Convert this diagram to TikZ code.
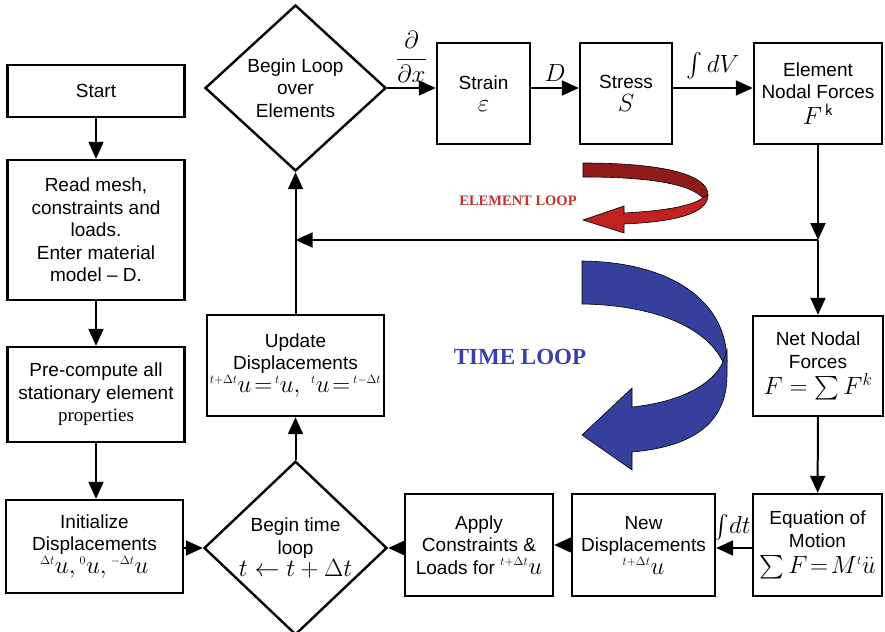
\documentclass[tikz,border=0pt]{standalone}
\usepackage{amsmath}
\usepackage{amssymb}
\usepackage{fontspec}
\setmainfont{Liberation Sans}
\newfontfamily\timesfont{Liberation Serif}
\usepackage{tikz}
\usetikzlibrary{arrows.meta, shapes.geometric}
\definecolor{elemback}{HTML}{8E1B17}
\definecolor{elemfront}{HTML}{C1221F}
\definecolor{elemtext}{HTML}{C4302B}
\definecolor{timeblue}{HTML}{34409C}
\definecolor{timetext}{HTML}{3A3FA8}
\newcommand{\bigmath}[1]{{\fontsize{23.5}{22}\selectfont$#1$}}
\newcommand{\lbl}[1]{{\fontsize{24}{24}\selectfont$#1$}}
\newcommand{\pre}[1]{{}^{\scriptscriptstyle #1}}

\begin{document}
\begin{tikzpicture}[x=1pt, y=-1pt, ->, >={Triangle[length=17pt,width=15pt]}, line width=2pt,
    every node/.style={font=\fontsize{19}{22.5}\selectfont},
    box/.style={rectangle, draw, line width=2.4pt, align=center, inner sep=1pt},
    decision/.style={diamond, draw, line width=2.4pt, align=center, inner sep=0pt}]
    \useasboundingbox (0,0) rectangle (885,631);
    % left column
    \node[box, minimum width=177, minimum height=52] (start) at (96,91) {Start};
    \node[box, minimum width=177, minimum height=140] (read) at (96,230) {Read mesh,\\constraints and\\loads.\\Enter material\\model -- D.};
    \node[box, minimum width=177, minimum height=95] (pre) at (96,394.5) {Pre-compute all\\stationary element\\{\timesfont properties}};
    \node[box, minimum width=177, minimum height=93] (init) at (94.5,546.5) {Initialize\\Displacements\\\bigmath{\pre{\Delta t}u,\pre{0}u,\pre{-\Delta t}u}};
    % time loop
    \node[decision, minimum width=183, minimum height=164] (timeloop) at (295.5,548) {Begin time\\loop\\\bigmath{t\leftarrow t+\Delta t}};
    \node[box, minimum width=177, minimum height=101] (update) at (295.5,365.5) {Update\\Displacements\\\bigmath{\pre{t+\Delta t}u\!=\!\pre{t}u,\ \pre{t}u\!=\!\pre{t-\Delta t}}};
    % element loop
    \node[decision, minimum width=181, minimum height=166] (elemloop) at (295.5,88) {Begin Loop\\over\\Elements};
    \node[box, minimum width=93, minimum height=101] (strain) at (483.5,93.5) {Strain\\\bigmath{\varepsilon}};
    \node[box, minimum width=92, minimum height=101] (stress) at (626,93.5) {Stress\\\bigmath{S}};
    \node[box, minimum width=128, minimum height=101] (elemf) at (818,93.5) {Element\\Nodal Forces\\[3pt]\bigmath{F^{\,\mathsf{k}}}};
    % right column and bottom row
    \node[box, minimum width=130, minimum height=100] (net) at (818,366) {Net Nodal\\Forces\\[4pt]\bigmath{F=\sum F^{k}}};
    \node[box, minimum width=129, minimum height=102] (eqn) at (817.5,545) {Equation of\\Motion\\[4pt]\bigmath{\sum F\!=\!M\pre{t}\ddot{u}}};
    \node[box, minimum width=143, minimum height=102] (newdisp) at (643.5,545) {New\\Displacements\\\bigmath{\pre{t+\Delta t}u}};
    \node[box, minimum width=148, minimum height=102] (apply) at (479,545) {Apply\\Constraints \&\\Loads for \bigmath{\pre{t+\Delta t}u}};
    \coordinate (split) at (818,240);

    \draw (start) -> (read);
    \draw (read) -> (pre);
    \draw (pre) -> (pre |- init.north);
    \draw (init.east |- timeloop.west) -> (timeloop.west);
    \draw (timeloop) -> (update);
    \draw (update) -> (elemloop);
    \draw (elemloop.east) -> node[above=1pt] {\lbl{\dfrac{\partial}{\partial x}}} (elemloop.east -| strain.west);
    \draw (strain.east |- elemloop.east) -> node[above=2pt] {\lbl{D}} (stress.west |- elemloop.east);
    \draw (stress.east |- elemloop.east) -> node[above=4pt] {\lbl{\int dV}} (elemf.west |- elemloop.east);
    \draw (elemf) -- (split);
    \draw (split) -> (net);
    \draw (split) -> (update.north |- split);
    \draw (net) -> (eqn);
    \draw (eqn.west |- 0,548) -> node[above=3pt, xshift=-2pt] {\bigmath{\int\! dt}} (newdisp.east |- 0,548);
    \draw (newdisp) -> (apply);
    \draw (apply.west |- timeloop.east) -> (timeloop.east);

    % loop arrows
    \filldraw[-, elemback, draw=black, line width=0.6pt] (583,163) .. controls (665,163) and (708,175) .. (708,195) -- (703,198) .. controls (690,184) and (650,177) .. (583,177) -- cycle;
    \filldraw[-, elemfront, draw=black, line width=0.6pt] (703,198) .. controls (690,207) and (660,211) .. (624,213) -- (624,206) -- (583,220) -- (624,233) -- (624,224) .. controls (670,222) and (708,215) .. (708,195) -- cycle;
    \filldraw[-, timeblue, draw=black, line width=0.6pt] (582,261) .. controls (670,262) and (727,300) .. (727,362) -- (723,362) .. controls (705,325) and (650,305) .. (582,304) -- cycle;
    \filldraw[-, timeblue, draw=black, line width=0.6pt] (727,350) -- (727,375) .. controls (727,425) and (690,447) .. (632,452) -- (632,470) -- (582,435) -- (632,388) -- (632,407) .. controls (680,402) and (712,385) .. (723,362) -- cycle;
    \node[text=elemtext, font=\timesfont\bfseries\fontsize{14.5}{16}\selectfont] (elemlabel) at (518,201) {ELEMENT LOOP};
    \node[text=timetext, font=\timesfont\bfseries\fontsize{23}{26}\selectfont] (timelabel) at (520,357) {TIME LOOP};
\end{tikzpicture}
\end{document}
